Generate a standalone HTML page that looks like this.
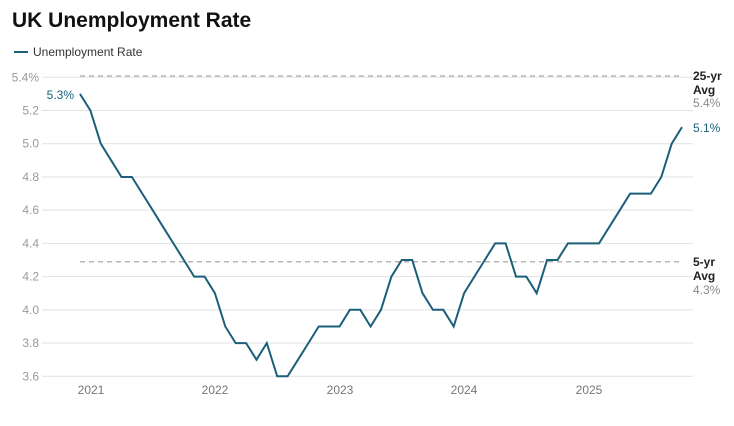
<!DOCTYPE html>
<html><head><meta charset="utf-8"><style>
body{margin:0;background:#fff;width:734px;height:421px;overflow:hidden;font-family:"Liberation Sans",sans-serif}
</style></head><body>
<svg width="734" height="421" xmlns="http://www.w3.org/2000/svg" font-family="Liberation Sans, sans-serif">
<text x="12" y="27" font-size="21" font-weight="bold" fill="#111">UK Unemployment Rate</text>
<line x1="14" y1="52" x2="28" y2="52" stroke="#1b5f7a" stroke-width="2"/>
<text x="33" y="56" font-size="12" fill="#333">Unemployment Rate</text>
<g id="grid" stroke="#e2e2e2" stroke-width="1"></g>
<g id="ylab" font-size="12" fill="#999" text-anchor="end"></g>
<line x1="80" y1="76" x2="680" y2="76" stroke="#b5b5b5" stroke-width="1.5" stroke-dasharray="5,4"/>
<line x1="80" y1="261.7" x2="680" y2="261.7" stroke="#b5b5b5" stroke-width="1.5" stroke-dasharray="5,4"/>
<g font-size="12">
<text x="693" y="80" font-weight="bold" fill="#222">25-yr</text>
<text x="693" y="94" font-weight="bold" fill="#222">Avg</text>
<text x="693" y="107" fill="#888">5.4%</text>
<text x="693" y="266" font-weight="bold" fill="#222">5-yr</text>
<text x="693" y="280" font-weight="bold" fill="#222">Avg</text>
<text x="693" y="294" fill="#888">4.3%</text>
<text x="693" y="132" fill="#1b5f7a">5.1%</text>
<text x="74" y="99" fill="#1b5f7a" text-anchor="end">5.3%</text>
</g>
<g font-size="12" fill="#777" text-anchor="middle">
<text x="91" y="394">2021</text><text x="215" y="394">2022</text><text x="340" y="394">2023</text><text x="464" y="394">2024</text><text x="589" y="394">2025</text>
</g>
<path id="ln" fill="none" stroke="#1b5f7a" stroke-width="2" stroke-linejoin="miter"/>
</svg>
<script>
var Y=function(v){return 77.3+(5.4-v)*166.1;};
var g=document.getElementById('grid'),yl=document.getElementById('ylab'),ns='http://www.w3.org/2000/svg';
for(var i=0;i<=9;i++){var v=3.6+i*0.2,y=Y(v);
var l=document.createElementNS(ns,'line');l.setAttribute('x1',42);l.setAttribute('x2',693);l.setAttribute('y1',y);l.setAttribute('y2',y);g.appendChild(l);
var t=document.createElementNS(ns,'text');t.setAttribute('x',39);t.setAttribute('y',y+4);t.textContent=v.toFixed(1)+(i==9?'%':'');yl.appendChild(t);}
var d=[5.3,5.2,5.0,4.9,4.8,4.8,4.7,4.6,4.5,4.4,4.3,4.2,4.2,4.1,3.9,3.8,3.8,3.7,3.8,3.6,3.6,3.7,3.8,3.9,3.9,3.9,4.0,4.0,3.9,4.0,4.2,4.3,4.3,4.1,4.0,4.0,3.9,4.1,4.2,4.3,4.4,4.4,4.2,4.2,4.1,4.3,4.3,4.4,4.4,4.4,4.4,4.5,4.6,4.7,4.7,4.7,4.8,5.0,5.1];
var p='';d.forEach(function(v,i){p+=(i?'L':'M')+(80+i*10.38).toFixed(1)+','+Y(v).toFixed(1);});
document.getElementById('ln').setAttribute('d',p);
</script>
</body></html>
